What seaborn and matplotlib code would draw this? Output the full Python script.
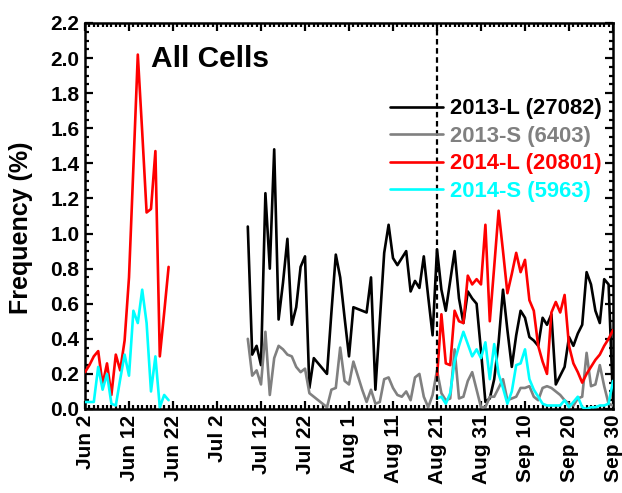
import numpy as np
import pandas as pd
import matplotlib
matplotlib.use("Agg")
import matplotlib.pyplot as plt
import matplotlib.dates as mdates
from matplotlib.lines import Line2D
from matplotlib.ticker import MultipleLocator
import seaborn as sns

# ---- data: daily frequency (%) of cells ----
series_names = ["2013-L (27082)", "2013-S (6403)", "2014-L (20801)", "2014-S (5963)"]
series_colors = ["#000000", "#808080", "#ff0000", "#00ffff"]

# 2013 record: Jul 9 .. Sep 30
start_2013 = "2014-07-09"
l_2013 = [1.04, 0.31, 0.36, 0.25, 1.23, 0.80, 1.48, 0.51, 0.72, 0.97,
          0.48, 0.58, 0.81, 0.87, 0.12, 0.29, 0.26, 0.23, 0.20, 0.55,
          0.88, 0.75, 0.52, 0.30, 0.58, 0.57, 0.56, 0.55, 0.75, 0.11,
          0.50, 0.89, 1.05, 0.86, 0.82, 0.86, 0.90, 0.67, 0.73, 0.69,
          0.87, 0.64, 0.42, 0.91, 0.68, 0.56, 0.73, 0.90, 0.63, 0.49,
          0.67, 0.63, 0.60, 0.33, 0.04, 0.06, 0.17, 0.38, 0.68, 0.45,
          0.24, 0.42, 0.56, 0.52, 0.41, 0.39, 0.36, 0.52, 0.48, 0.54,
          0.14, 0.19, 0.24, 0.41, 0.36, 0.43, 0.48, 0.78, 0.71, 0.56,
          0.49, 0.74, 0.71, 0.05]
s_2013 = [0.40, 0.19, 0.22, 0.14, 0.44, 0.08, 0.29, 0.36, 0.34, 0.31,
          0.30, 0.24, 0.21, 0.23, 0.09, 0.07, 0.05, 0.03, 0.01, 0.11,
          0.12, 0.35, 0.16, 0.14, 0.27, 0.19, 0.11, 0.04, 0.11, 0.03,
          0.04, 0.17, 0.18, 0.12, 0.08, 0.07, 0.10, 0.05, 0.18, 0.20,
          0.07, 0.01, 0.08, 0.22, 0.09, 0.05, 0.06, 0.34, 0.06, 0.07,
          0.16, 0.21, 0.11, 0.01, 0.01, 0.07, 0.07, 0.12, 0.17, 0.05,
          0.06, 0.07, 0.12, 0.12, 0.13, 0.07, 0.05, 0.12, 0.13, 0.12,
          0.10, 0.08, 0.05, 0.03, 0.02, 0.06, 0.07, 0.32, 0.13, 0.14,
          0.25, 0.13, 0.03, 0.02]

# 2014 record, first part: Jun 2 .. Jun 21
start_2014a = "2014-06-02"
l_2014a = [0.21, 0.25, 0.30, 0.33, 0.14, 0.26, 0.08, 0.31, 0.22, 0.39,
           0.75, 1.38, 2.02, 1.58, 1.12, 1.14, 1.47, 0.30, 0.55, 0.81]
s_2014a = [0.04, 0.04, 0.04, 0.24, 0.11, 0.20, 0.03, 0.02, 0.17, 0.31,
           0.19, 0.56, 0.49, 0.68, 0.49, 0.10, 0.30, 0.01, 0.08, 0.05]

# 2014 record, second part: Aug 21 .. Sep 30
start_2014b = "2014-08-21"
l_2014b = [0.18, 0.54, 0.26, 0.25, 0.56, 0.50, 0.49, 0.76, 0.71, 0.74,
           0.71, 1.05, 0.50, 0.81, 1.13, 0.90, 0.66, 0.77, 0.89, 0.78,
           0.85, 0.62, 0.56, 0.36, 0.27, 0.20, 0.55, 0.61, 0.55, 0.65,
           0.36, 0.26, 0.21, 0.15, 0.20, 0.24, 0.28, 0.31, 0.36, 0.40,
           0.45]
s_2014b = [0.06, 0.07, 0.03, 0.09, 0.27, 0.36, 0.44, 0.37, 0.30, 0.34,
           0.29, 0.38, 0.17, 0.37, 0.20, 0.12, 0.03, 0.10, 0.25, 0.26,
           0.34, 0.17, 0.11, 0.07, 0.03, 0.02, 0.02, 0.02, 0.02, 0.05,
           0.01, 0.04, 0.07, 0.01, 0.00, 0.01, 0.01, 0.02, 0.02, 0.03,
           0.16]

tick_dates = ["2014-06-02", "2014-06-12", "2014-06-22", "2014-07-02", "2014-07-12",
              "2014-07-22", "2014-08-01", "2014-08-11", "2014-08-21", "2014-08-31",
              "2014-09-10", "2014-09-20", "2014-09-30"]
tick_labels = ["Jun 2", "Jun 12", "Jun 22", "Jul 2", "Jul 12", "Jul 22", "Aug 1",
               "Aug 11", "Aug 21", "Aug 31", "Sep 10", "Sep 20", "Sep 30"]
y_ticks = [0.0, 0.2, 0.4, 0.6, 0.8, 1.0, 1.2, 1.4, 1.6, 1.8, 2.0, 2.2]
marker_date = "2014-08-21"


def segment(name, seg, start, values):
    return pd.DataFrame({
        "date": pd.date_range(start, periods=len(values), freq="D"),
        "freq": values,
        "series": name,
        "segment": seg,
    })


df = pd.concat([
    segment(series_names[0], "a13L", start_2013, l_2013),
    segment(series_names[1], "a13S", start_2013, s_2013),
    segment(series_names[2], "a14L", start_2014a, l_2014a),
    segment(series_names[2], "b14L", start_2014b, l_2014b),
    segment(series_names[3], "a14S", start_2014a, s_2014a),
    segment(series_names[3], "b14S", start_2014b, s_2014b),
], ignore_index=True)

# ---- style ----
sns.set_style("ticks")
plt.rcParams["font.family"] = ["Liberation Sans", "DejaVu Sans"]
plt.rcParams["font.weight"] = "bold"
plt.rcParams["axes.labelweight"] = "bold"
plt.rcParams["text.color"] = "black"
plt.rcParams["axes.labelcolor"] = "black"
plt.rcParams["xtick.color"] = "black"
plt.rcParams["ytick.color"] = "black"

fig = plt.figure(figsize=(6.22, 4.93), dpi=100)
ax = fig.add_axes([85 / 622, 84 / 493, 528 / 622, 386 / 493])

palette = dict(zip(series_names, series_colors))
sns.lineplot(data=df, x="date", y="freq", hue="series", hue_order=series_names,
             units="segment", estimator=None, palette=palette,
             linewidth=1.9, legend=False, ax=ax, zorder=3)

ax.axvline(pd.Timestamp(marker_date), color="black", lw=1.6,
           linestyle=(0, (2.5, 1.6)), zorder=4)

# axes ranges and ticks
ax.set_xlim(pd.Timestamp(tick_dates[0]), pd.Timestamp(tick_dates[-1]))
ax.set_ylim(0, 2.2)
ax.set_xticks([pd.Timestamp(d) for d in tick_dates])
ax.set_xticklabels(tick_labels, rotation=90, fontsize=15, fontweight="bold")
ax.xaxis.set_minor_locator(mdates.DayLocator())
ax.set_yticks(y_ticks)
ax.set_yticklabels([f"{v:.1f}" for v in y_ticks], fontsize=15, fontweight="bold")
ax.yaxis.set_minor_locator(MultipleLocator(0.05))
ax.tick_params(which="both", direction="in", top=True, right=True, width=1.6,
               colors="black")
ax.tick_params(which="major", length=5.5, pad=4)
ax.tick_params(which="minor", length=3)
for sp in ax.spines.values():
    sp.set_linewidth(1.8)
    sp.set_color("black")

ax.set_xlabel("")
ax.set_ylabel("Frequency (%)", fontsize=18, fontweight="bold")
ax.yaxis.set_label_coords(-0.0985, 0.47)

ax.text(0.125, 0.886, "All Cells", transform=ax.transAxes, fontsize=21.5,
        fontweight="bold", va="baseline", ha="left")

handles = [Line2D([0], [0], color=c, lw=1.9) for c in series_colors]
leg = ax.legend(handles, series_names, loc="upper right",
                bbox_to_anchor=(0.979, 0.805), frameon=False,
                handlelength=2.4, handletextpad=0.32, labelspacing=0.3,
                borderpad=0, borderaxespad=0, labelcolor="linecolor",
                prop={"weight": "bold", "size": 15.8})

fig.savefig("out.png", dpi=100)
